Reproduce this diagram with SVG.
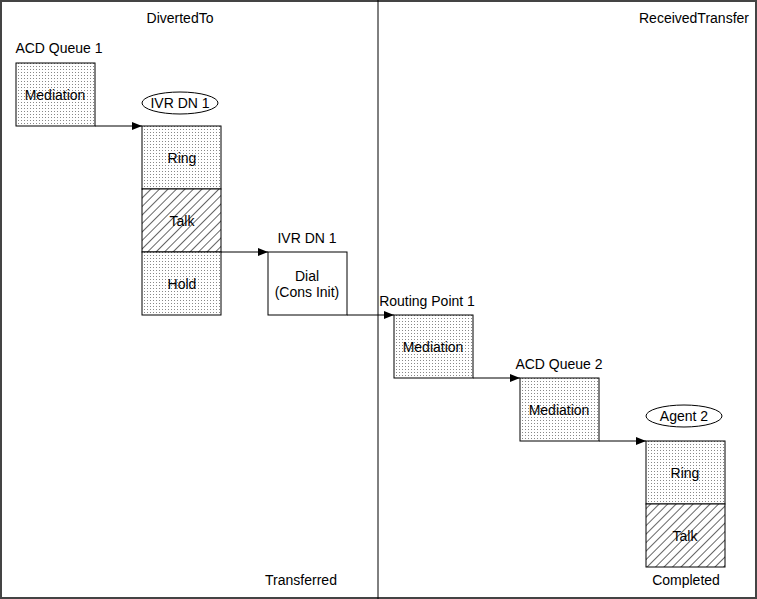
<svg xmlns="http://www.w3.org/2000/svg" width="757" height="599" viewBox="0 0 757 599">
<defs>
<pattern id="dots" width="3" height="3" patternUnits="userSpaceOnUse"><rect width="3" height="3" fill="#fff"/><rect width="1" height="1" fill="#888"/></pattern>
<pattern id="hatch" width="6" height="6" patternUnits="userSpaceOnUse" patternTransform="rotate(45)"><rect width="6" height="6" fill="#fff"/><line x1="0" y1="0" x2="0" y2="6" stroke="#000" stroke-width="1.2"/></pattern>
<marker id="arr" markerWidth="10" markerHeight="8" refX="10" refY="4" orient="auto" markerUnits="userSpaceOnUse"><path d="M0,0 L10,4 L0,8 Z" fill="#000"/></marker>
</defs>
<style>
text{font-family:"Liberation Sans",Arial,sans-serif;font-size:14px;fill:#000;text-anchor:middle}
.d{fill:url(#dots);stroke:#000;stroke-width:1}
.h{fill:url(#hatch);stroke:#000;stroke-width:1}
.p{fill:#fff;stroke:#000;stroke-width:1}
.c{fill:none;stroke:#000;stroke-width:1;marker-end:url(#arr)}
</style>
<rect x="0" y="0" width="757" height="599" fill="#fff"/>
<rect x="1" y="1" width="755" height="597" fill="none" stroke="#444" stroke-width="2"/>
<line x1="378" y1="0" x2="378" y2="599" stroke="#000"/>
<text x="180" y="23">DivertedTo</text>
<text x="694" y="23">ReceivedTransfer</text>
<text x="301" y="585">Transferred</text>
<text x="686" y="585">Completed</text>
<g id="acd1"><text x="59" y="53">ACD Queue 1</text><rect class="d" x="16" y="63" width="79" height="63"/><text x="55" y="100">Mediation</text></g>
<g id="ivr1"><ellipse class="p" cx="180" cy="103" rx="38" ry="11"/><text x="180" y="108">IVR DN 1</text>
<rect class="d" x="142" y="126" width="79" height="63"/><text x="182" y="163">Ring</text>
<rect class="h" x="142" y="189" width="79" height="63"/><text x="182" y="226">Talk</text>
<rect class="d" x="142" y="252" width="79" height="63"/><text x="182" y="289">Hold</text></g>
<g id="ivr2"><text x="307" y="243">IVR DN 1</text><rect class="p" x="268" y="252" width="79" height="63"/><text x="307" y="281">Dial</text><text x="307" y="297">(Cons Init)</text></g>
<g id="rp1"><text x="427" y="306">Routing Point 1</text><rect class="d" x="394" y="315" width="79" height="63"/><text x="433" y="352">Mediation</text></g>
<g id="acd2"><text x="559" y="369">ACD Queue 2</text><rect class="d" x="520" y="378" width="79" height="63"/><text x="559" y="415">Mediation</text></g>
<g id="agent2"><ellipse class="p" cx="684" cy="416" rx="38" ry="11"/><text x="684" y="421">Agent 2</text>
<rect class="d" x="646" y="441" width="79" height="63"/><text x="685" y="478">Ring</text>
<rect class="h" x="646" y="504" width="79" height="63"/><text x="685" y="541">Talk</text></g>
<g id="connectors">
<path class="c" d="M95,126 H142"/>
<path class="c" d="M221,252 H268"/>
<path class="c" d="M347,315 H394"/>
<path class="c" d="M473,378 H520"/>
<path class="c" d="M599,441 H646"/>
</g>
</svg>
